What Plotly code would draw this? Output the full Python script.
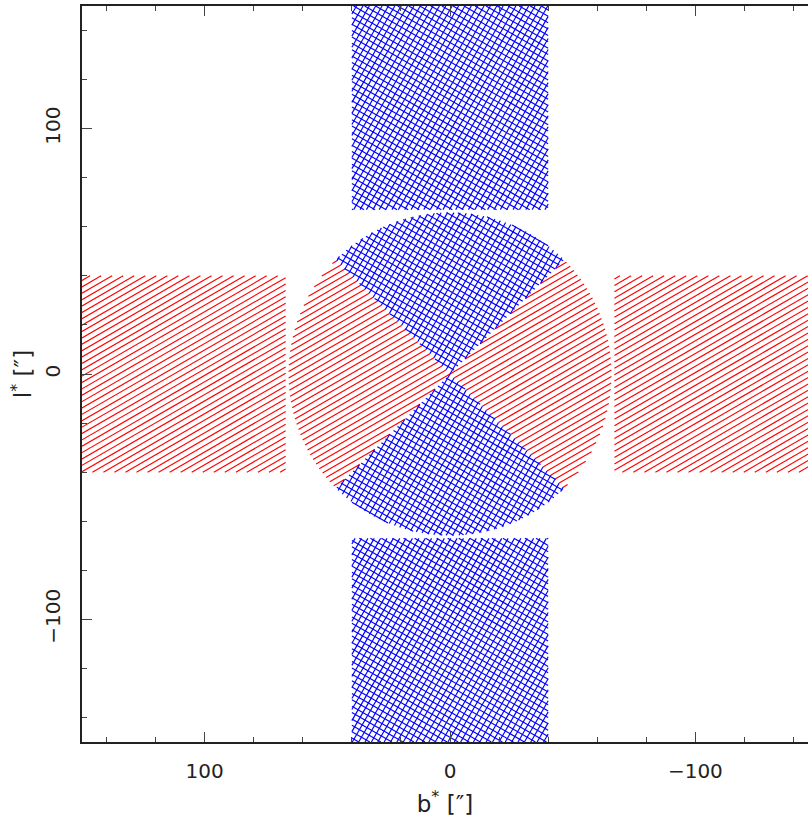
import numpy as np
import plotly.graph_objects as go

# ---- Region definitions (arcsec) ----
blue_rect_x = [-40, 40]
blue_rect_top_y = [67, 150]
blue_rect_bot_y = [-150, -67]
red_rect_y = [-40, 40]
red_rect_left_x = [67, 150]
red_rect_right_x = [-150, -67]
wedge_radius = 65.8
red_wedge_angles = [[-45, 45], [135, 225]]      # screen angles, deg
blue_wedge_angles = [[45, 135], [225, 315]]

x_range = [150, -145.9]
y_range = [-150, 150]
major_tickvals = [-100, 0, 100]
major_ticktext = ["\u2212100", "0", "100"]

# hatch styles
red_hatch_angles = [30]
blue_hatch_angles = [-30, 60]
hatch_spacing = 2.25
RED = "#ff0000"
BLUE = "#0000ff"


def rect_uv(xr, yr):
    # screen coords: u = -x (x axis reversed), v = y
    return [(-xr[0], yr[0]), (-xr[1], yr[0]), (-xr[1], yr[1]), (-xr[0], yr[1])]


def sector_uv(a0, a1, r, n=90):
    ang = np.radians(np.linspace(a0, a1, n))
    pts = [(0.0, 0.0)] + [(r * np.cos(a), r * np.sin(a)) for a in ang]
    return pts


def hatch(poly, angle_deg, spacing):
    th = np.radians(angle_deg)
    d = np.array([np.cos(th), np.sin(th)])
    nrm = np.array([-np.sin(th), np.cos(th)])
    P = np.asarray(poly, dtype=float)
    proj = P @ nrm
    m = len(P)
    kmin = int(np.ceil(proj.min() / spacing))
    kmax = int(np.floor(proj.max() / spacing))
    xs, ys = [], []
    for k in range(kmin, kmax + 1):
        c = k * spacing
        pts = []
        for i in range(m):
            j = (i + 1) % m
            pa, pb = proj[i] - c, proj[j] - c
            if pa == pb:
                continue
            if (pa <= 0 <= pb) or (pb <= 0 <= pa):
                t = pa / (pa - pb)
                pts.append(P[i] + t * (P[j] - P[i]))
        if len(pts) < 2:
            continue
        pts = np.array(pts)
        s = pts @ d
        p0, p1 = pts[s.argmin()], pts[s.argmax()]
        xs += [-p0[0], -p1[0], None]
        ys += [p0[1], p1[1], None]
    return xs, ys


red_polys = [rect_uv(red_rect_left_x, red_rect_y), rect_uv(red_rect_right_x, red_rect_y)]
red_polys += [sector_uv(a[0], a[1], wedge_radius) for a in red_wedge_angles]
blue_polys = [rect_uv(blue_rect_x, blue_rect_top_y), rect_uv(blue_rect_x, blue_rect_bot_y)]
blue_polys += [sector_uv(a[0], a[1], wedge_radius) for a in blue_wedge_angles]

fig = go.Figure()


def add_hatch(polys, angles, color):
    X, Y = [], []
    for p in polys:
        for a in angles:
            xs, ys = hatch(p, a, hatch_spacing)
            X += xs
            Y += ys
    fig.add_trace(go.Scatter(x=X, y=Y, mode="lines", line=dict(color=color, width=1.15),
                             hoverinfo="skip", showlegend=False))


add_hatch(red_polys, red_hatch_angles, RED)
add_hatch(blue_polys, blue_hatch_angles, BLUE)

axis_font = dict(family="DejaVu Sans", size=20, color="#222")
title_font = dict(family="DejaVu Sans", size=23, color="#222")
common = dict(
    showgrid=False, zeroline=False, showline=True, linecolor="#222", linewidth=1.5,
    ticks="inside", ticklen=10, tickwidth=1.2, tickcolor="#444",
    tickvals=major_tickvals, ticktext=major_ticktext, tickfont=axis_font,
    minor=dict(dtick=20, tick0=0, ticks="inside", ticklen=5, tickwidth=1.2, tickcolor="#444"),
)

fig.update_layout(
    width=808, height=821,
    margin=dict(l=82, r=0, t=6, b=79),
    plot_bgcolor="white", paper_bgcolor="white",
    showlegend=False,
    xaxis=dict(range=x_range, mirror="ticks", ticklabelstandoff=10,
               title=dict(text="b<sup>*</sup> [\u2033]", font=title_font, standoff=14), **common),
    yaxis=dict(range=y_range, mirror=False, tickangle=-90, ticklabelstandoff=12,
               title=dict(text="l<sup>*</sup> [\u2033]", font=title_font, standoff=3), **common),
)

fig.write_html("out.html")
